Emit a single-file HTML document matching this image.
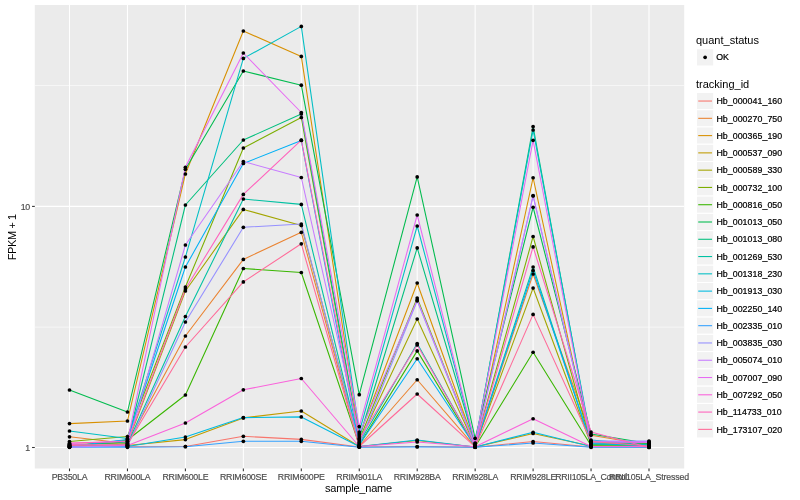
<!DOCTYPE html>
<html><head><meta charset="utf-8"><title>expression plot</title>
<style>html,body{margin:0;padding:0;background:#fff;}svg{display:block}text{font-family:"Liberation Sans",Arial,Helvetica,sans-serif;}</style></head>
<body>
<svg width="800" height="500" viewBox="0 0 800 500">
<rect x="0" y="0" width="800" height="500" fill="#ffffff"/>
<rect x="34.8" y="5.0" width="649.4" height="463.5" fill="#EBEBEB"/>
<g stroke="#FFFFFF" stroke-width="0.6">
<line x1="34.8" x2="684.2" y1="327.15" y2="327.15"/>
<line x1="34.8" x2="684.2" y1="85.55" y2="85.55"/>
</g>
<g stroke="#FFFFFF" stroke-width="1.07">
<line x1="34.8" x2="684.2" y1="447.50" y2="447.50"/>
<line x1="34.8" x2="684.2" y1="206.40" y2="206.40"/>
<line x1="69.50" x2="69.50" y1="5.0" y2="468.5"/>
<line x1="127.45" x2="127.45" y1="5.0" y2="468.5"/>
<line x1="185.40" x2="185.40" y1="5.0" y2="468.5"/>
<line x1="243.35" x2="243.35" y1="5.0" y2="468.5"/>
<line x1="301.30" x2="301.30" y1="5.0" y2="468.5"/>
<line x1="359.25" x2="359.25" y1="5.0" y2="468.5"/>
<line x1="417.20" x2="417.20" y1="5.0" y2="468.5"/>
<line x1="475.15" x2="475.15" y1="5.0" y2="468.5"/>
<line x1="533.10" x2="533.10" y1="5.0" y2="468.5"/>
<line x1="591.05" x2="591.05" y1="5.0" y2="468.5"/>
<line x1="649.00" x2="649.00" y1="5.0" y2="468.5"/>
</g>
<g fill="none" stroke-width="1.07" stroke-linejoin="round" stroke-linecap="butt">
<polyline stroke="#F8766D" points="69.50,446.00 127.45,446.80 185.40,446.50 243.35,436.30 301.30,439.40 359.25,447.00 417.20,446.50 475.15,447.20 533.10,441.50 591.05,447.00 649.00,447.20"/>
<polyline stroke="#EA8331" points="69.50,436.80 127.45,443.50 185.40,336.00 243.35,259.40 301.30,232.30 359.25,446.00 417.20,379.75 475.15,446.80 533.10,274.00 591.05,435.30 649.00,445.00"/>
<polyline stroke="#D89000" points="69.50,423.60 127.45,421.00 185.40,174.00 243.35,31.00 301.30,56.40 359.25,436.00 417.20,283.00 475.15,445.00 533.10,177.75 591.05,444.80 649.00,444.00"/>
<polyline stroke="#C09B00" points="69.50,445.00 127.45,445.50 185.40,439.60 243.35,417.90 301.30,411.00 359.25,446.50 417.20,440.50 475.15,447.00 533.10,433.50 591.05,446.00 649.00,446.50"/>
<polyline stroke="#A3A500" points="69.50,444.50 127.45,443.00 185.40,291.00 243.35,209.40 301.30,225.50 359.25,442.00 417.20,319.00 475.15,446.00 533.10,288.00 591.05,444.50 649.00,444.50"/>
<polyline stroke="#7CAE00" points="69.50,441.50 127.45,436.50 185.40,287.00 243.35,148.00 301.30,117.50 359.25,440.00 417.20,298.00 475.15,445.50 533.10,236.50 591.05,444.00 649.00,443.50"/>
<polyline stroke="#39B600" points="69.50,446.50 127.45,440.00 185.40,395.00 243.35,268.50 301.30,272.50 359.25,445.00 417.20,350.90 475.15,446.80 533.10,352.25 591.05,445.50 649.00,446.00"/>
<polyline stroke="#00BB4E" points="69.50,390.00 127.45,412.00 185.40,169.30 243.35,71.00 301.30,85.20 359.25,394.70 417.20,176.90 475.15,438.30 533.10,207.25 591.05,434.00 649.00,443.50"/>
<polyline stroke="#00BF7D" points="69.50,445.50 127.45,442.00 185.40,205.00 243.35,140.00 301.30,114.00 359.25,438.00 417.20,247.90 475.15,444.00 533.10,126.60 591.05,442.50 649.00,443.00"/>
<polyline stroke="#00C1A3" points="69.50,447.00 127.45,444.00 185.40,316.50 243.35,199.00 301.30,204.40 359.25,443.00 417.20,343.50 475.15,446.30 533.10,267.00 591.05,444.00 649.00,445.50"/>
<polyline stroke="#00BFC4" points="69.50,431.00 127.45,438.50 185.40,257.00 243.35,58.40 301.30,26.40 359.25,432.00 417.20,226.00 475.15,443.50 533.10,130.00 591.05,440.00 649.00,445.00"/>
<polyline stroke="#00BAE0" points="69.50,446.00 127.45,446.50 185.40,437.00 243.35,417.60 301.30,416.90 359.25,446.50 417.20,440.00 475.15,447.00 533.10,432.25 591.05,446.50 649.00,446.80"/>
<polyline stroke="#00B0F6" points="69.50,446.50 127.45,439.50 185.40,267.00 243.35,163.50 301.30,140.40 359.25,445.00 417.20,358.75 475.15,446.50 533.10,270.50 591.05,443.50 649.00,445.50"/>
<polyline stroke="#35A2FF" points="69.50,447.20 127.45,447.30 185.40,446.70 243.35,441.30 301.30,441.30 359.25,447.20 417.20,446.90 475.15,447.30 533.10,443.00 591.05,447.30 649.00,447.30"/>
<polyline stroke="#9590FF" points="69.50,447.00 127.45,446.00 185.40,322.00 243.35,227.30 301.30,224.00 359.25,444.00 417.20,300.80 475.15,445.50 533.10,196.00 591.05,441.00 649.00,441.00"/>
<polyline stroke="#C77CFF" points="69.50,447.30 127.45,445.00 185.40,245.00 243.35,161.50 301.30,177.50 359.25,434.00 417.20,300.00 475.15,445.20 533.10,195.50 591.05,441.30 649.00,441.50"/>
<polyline stroke="#E76BF3" points="69.50,443.50 127.45,441.00 185.40,167.30 243.35,53.00 301.30,112.50 359.25,426.60 417.20,215.00 475.15,443.00 533.10,140.30 591.05,442.00 649.00,442.50"/>
<polyline stroke="#FA62DB" points="69.50,444.50 127.45,445.50 185.40,423.00 243.35,389.80 301.30,378.50 359.25,446.50 417.20,442.00 475.15,446.80 533.10,418.75 591.05,446.50 649.00,446.50"/>
<polyline stroke="#FF62BC" points="69.50,443.00 127.45,441.50 185.40,289.00 243.35,194.40 301.30,140.20 359.25,439.00 417.20,345.00 475.15,446.00 533.10,246.90 591.05,432.00 649.00,447.50"/>
<polyline stroke="#FF6A98" points="69.50,445.50 127.45,444.50 185.40,347.00 243.35,281.90 301.30,243.80 359.25,446.50 417.20,394.00 475.15,446.80 533.10,314.40 591.05,441.50 649.00,446.00"/>
</g>
<g fill="#000000">
<circle cx="69.50" cy="446.00" r="1.85"/><circle cx="127.45" cy="446.80" r="1.85"/><circle cx="185.40" cy="446.50" r="1.85"/><circle cx="243.35" cy="436.30" r="1.85"/><circle cx="301.30" cy="439.40" r="1.85"/><circle cx="359.25" cy="447.00" r="1.85"/><circle cx="417.20" cy="446.50" r="1.85"/><circle cx="475.15" cy="447.20" r="1.85"/><circle cx="533.10" cy="441.50" r="1.85"/><circle cx="591.05" cy="447.00" r="1.85"/><circle cx="649.00" cy="447.20" r="1.85"/>
<circle cx="69.50" cy="436.80" r="1.85"/><circle cx="127.45" cy="443.50" r="1.85"/><circle cx="185.40" cy="336.00" r="1.85"/><circle cx="243.35" cy="259.40" r="1.85"/><circle cx="301.30" cy="232.30" r="1.85"/><circle cx="359.25" cy="446.00" r="1.85"/><circle cx="417.20" cy="379.75" r="1.85"/><circle cx="475.15" cy="446.80" r="1.85"/><circle cx="533.10" cy="274.00" r="1.85"/><circle cx="591.05" cy="435.30" r="1.85"/><circle cx="649.00" cy="445.00" r="1.85"/>
<circle cx="69.50" cy="423.60" r="1.85"/><circle cx="127.45" cy="421.00" r="1.85"/><circle cx="185.40" cy="174.00" r="1.85"/><circle cx="243.35" cy="31.00" r="1.85"/><circle cx="301.30" cy="56.40" r="1.85"/><circle cx="359.25" cy="436.00" r="1.85"/><circle cx="417.20" cy="283.00" r="1.85"/><circle cx="475.15" cy="445.00" r="1.85"/><circle cx="533.10" cy="177.75" r="1.85"/><circle cx="591.05" cy="444.80" r="1.85"/><circle cx="649.00" cy="444.00" r="1.85"/>
<circle cx="69.50" cy="445.00" r="1.85"/><circle cx="127.45" cy="445.50" r="1.85"/><circle cx="185.40" cy="439.60" r="1.85"/><circle cx="243.35" cy="417.90" r="1.85"/><circle cx="301.30" cy="411.00" r="1.85"/><circle cx="359.25" cy="446.50" r="1.85"/><circle cx="417.20" cy="440.50" r="1.85"/><circle cx="475.15" cy="447.00" r="1.85"/><circle cx="533.10" cy="433.50" r="1.85"/><circle cx="591.05" cy="446.00" r="1.85"/><circle cx="649.00" cy="446.50" r="1.85"/>
<circle cx="69.50" cy="444.50" r="1.85"/><circle cx="127.45" cy="443.00" r="1.85"/><circle cx="185.40" cy="291.00" r="1.85"/><circle cx="243.35" cy="209.40" r="1.85"/><circle cx="301.30" cy="225.50" r="1.85"/><circle cx="359.25" cy="442.00" r="1.85"/><circle cx="417.20" cy="319.00" r="1.85"/><circle cx="475.15" cy="446.00" r="1.85"/><circle cx="533.10" cy="288.00" r="1.85"/><circle cx="591.05" cy="444.50" r="1.85"/><circle cx="649.00" cy="444.50" r="1.85"/>
<circle cx="69.50" cy="441.50" r="1.85"/><circle cx="127.45" cy="436.50" r="1.85"/><circle cx="185.40" cy="287.00" r="1.85"/><circle cx="243.35" cy="148.00" r="1.85"/><circle cx="301.30" cy="117.50" r="1.85"/><circle cx="359.25" cy="440.00" r="1.85"/><circle cx="417.20" cy="298.00" r="1.85"/><circle cx="475.15" cy="445.50" r="1.85"/><circle cx="533.10" cy="236.50" r="1.85"/><circle cx="591.05" cy="444.00" r="1.85"/><circle cx="649.00" cy="443.50" r="1.85"/>
<circle cx="69.50" cy="446.50" r="1.85"/><circle cx="127.45" cy="440.00" r="1.85"/><circle cx="185.40" cy="395.00" r="1.85"/><circle cx="243.35" cy="268.50" r="1.85"/><circle cx="301.30" cy="272.50" r="1.85"/><circle cx="359.25" cy="445.00" r="1.85"/><circle cx="417.20" cy="350.90" r="1.85"/><circle cx="475.15" cy="446.80" r="1.85"/><circle cx="533.10" cy="352.25" r="1.85"/><circle cx="591.05" cy="445.50" r="1.85"/><circle cx="649.00" cy="446.00" r="1.85"/>
<circle cx="69.50" cy="390.00" r="1.85"/><circle cx="127.45" cy="412.00" r="1.85"/><circle cx="185.40" cy="169.30" r="1.85"/><circle cx="243.35" cy="71.00" r="1.85"/><circle cx="301.30" cy="85.20" r="1.85"/><circle cx="359.25" cy="394.70" r="1.85"/><circle cx="417.20" cy="176.90" r="1.85"/><circle cx="475.15" cy="438.30" r="1.85"/><circle cx="533.10" cy="207.25" r="1.85"/><circle cx="591.05" cy="434.00" r="1.85"/><circle cx="649.00" cy="443.50" r="1.85"/>
<circle cx="69.50" cy="445.50" r="1.85"/><circle cx="127.45" cy="442.00" r="1.85"/><circle cx="185.40" cy="205.00" r="1.85"/><circle cx="243.35" cy="140.00" r="1.85"/><circle cx="301.30" cy="114.00" r="1.85"/><circle cx="359.25" cy="438.00" r="1.85"/><circle cx="417.20" cy="247.90" r="1.85"/><circle cx="475.15" cy="444.00" r="1.85"/><circle cx="533.10" cy="126.60" r="1.85"/><circle cx="591.05" cy="442.50" r="1.85"/><circle cx="649.00" cy="443.00" r="1.85"/>
<circle cx="69.50" cy="447.00" r="1.85"/><circle cx="127.45" cy="444.00" r="1.85"/><circle cx="185.40" cy="316.50" r="1.85"/><circle cx="243.35" cy="199.00" r="1.85"/><circle cx="301.30" cy="204.40" r="1.85"/><circle cx="359.25" cy="443.00" r="1.85"/><circle cx="417.20" cy="343.50" r="1.85"/><circle cx="475.15" cy="446.30" r="1.85"/><circle cx="533.10" cy="267.00" r="1.85"/><circle cx="591.05" cy="444.00" r="1.85"/><circle cx="649.00" cy="445.50" r="1.85"/>
<circle cx="69.50" cy="431.00" r="1.85"/><circle cx="127.45" cy="438.50" r="1.85"/><circle cx="185.40" cy="257.00" r="1.85"/><circle cx="243.35" cy="58.40" r="1.85"/><circle cx="301.30" cy="26.40" r="1.85"/><circle cx="359.25" cy="432.00" r="1.85"/><circle cx="417.20" cy="226.00" r="1.85"/><circle cx="475.15" cy="443.50" r="1.85"/><circle cx="533.10" cy="130.00" r="1.85"/><circle cx="591.05" cy="440.00" r="1.85"/><circle cx="649.00" cy="445.00" r="1.85"/>
<circle cx="69.50" cy="446.00" r="1.85"/><circle cx="127.45" cy="446.50" r="1.85"/><circle cx="185.40" cy="437.00" r="1.85"/><circle cx="243.35" cy="417.60" r="1.85"/><circle cx="301.30" cy="416.90" r="1.85"/><circle cx="359.25" cy="446.50" r="1.85"/><circle cx="417.20" cy="440.00" r="1.85"/><circle cx="475.15" cy="447.00" r="1.85"/><circle cx="533.10" cy="432.25" r="1.85"/><circle cx="591.05" cy="446.50" r="1.85"/><circle cx="649.00" cy="446.80" r="1.85"/>
<circle cx="69.50" cy="446.50" r="1.85"/><circle cx="127.45" cy="439.50" r="1.85"/><circle cx="185.40" cy="267.00" r="1.85"/><circle cx="243.35" cy="163.50" r="1.85"/><circle cx="301.30" cy="140.40" r="1.85"/><circle cx="359.25" cy="445.00" r="1.85"/><circle cx="417.20" cy="358.75" r="1.85"/><circle cx="475.15" cy="446.50" r="1.85"/><circle cx="533.10" cy="270.50" r="1.85"/><circle cx="591.05" cy="443.50" r="1.85"/><circle cx="649.00" cy="445.50" r="1.85"/>
<circle cx="69.50" cy="447.20" r="1.85"/><circle cx="127.45" cy="447.30" r="1.85"/><circle cx="185.40" cy="446.70" r="1.85"/><circle cx="243.35" cy="441.30" r="1.85"/><circle cx="301.30" cy="441.30" r="1.85"/><circle cx="359.25" cy="447.20" r="1.85"/><circle cx="417.20" cy="446.90" r="1.85"/><circle cx="475.15" cy="447.30" r="1.85"/><circle cx="533.10" cy="443.00" r="1.85"/><circle cx="591.05" cy="447.30" r="1.85"/><circle cx="649.00" cy="447.30" r="1.85"/>
<circle cx="69.50" cy="447.00" r="1.85"/><circle cx="127.45" cy="446.00" r="1.85"/><circle cx="185.40" cy="322.00" r="1.85"/><circle cx="243.35" cy="227.30" r="1.85"/><circle cx="301.30" cy="224.00" r="1.85"/><circle cx="359.25" cy="444.00" r="1.85"/><circle cx="417.20" cy="300.80" r="1.85"/><circle cx="475.15" cy="445.50" r="1.85"/><circle cx="533.10" cy="196.00" r="1.85"/><circle cx="591.05" cy="441.00" r="1.85"/><circle cx="649.00" cy="441.00" r="1.85"/>
<circle cx="69.50" cy="447.30" r="1.85"/><circle cx="127.45" cy="445.00" r="1.85"/><circle cx="185.40" cy="245.00" r="1.85"/><circle cx="243.35" cy="161.50" r="1.85"/><circle cx="301.30" cy="177.50" r="1.85"/><circle cx="359.25" cy="434.00" r="1.85"/><circle cx="417.20" cy="300.00" r="1.85"/><circle cx="475.15" cy="445.20" r="1.85"/><circle cx="533.10" cy="195.50" r="1.85"/><circle cx="591.05" cy="441.30" r="1.85"/><circle cx="649.00" cy="441.50" r="1.85"/>
<circle cx="69.50" cy="443.50" r="1.85"/><circle cx="127.45" cy="441.00" r="1.85"/><circle cx="185.40" cy="167.30" r="1.85"/><circle cx="243.35" cy="53.00" r="1.85"/><circle cx="301.30" cy="112.50" r="1.85"/><circle cx="359.25" cy="426.60" r="1.85"/><circle cx="417.20" cy="215.00" r="1.85"/><circle cx="475.15" cy="443.00" r="1.85"/><circle cx="533.10" cy="140.30" r="1.85"/><circle cx="591.05" cy="442.00" r="1.85"/><circle cx="649.00" cy="442.50" r="1.85"/>
<circle cx="69.50" cy="444.50" r="1.85"/><circle cx="127.45" cy="445.50" r="1.85"/><circle cx="185.40" cy="423.00" r="1.85"/><circle cx="243.35" cy="389.80" r="1.85"/><circle cx="301.30" cy="378.50" r="1.85"/><circle cx="359.25" cy="446.50" r="1.85"/><circle cx="417.20" cy="442.00" r="1.85"/><circle cx="475.15" cy="446.80" r="1.85"/><circle cx="533.10" cy="418.75" r="1.85"/><circle cx="591.05" cy="446.50" r="1.85"/><circle cx="649.00" cy="446.50" r="1.85"/>
<circle cx="69.50" cy="443.00" r="1.85"/><circle cx="127.45" cy="441.50" r="1.85"/><circle cx="185.40" cy="289.00" r="1.85"/><circle cx="243.35" cy="194.40" r="1.85"/><circle cx="301.30" cy="140.20" r="1.85"/><circle cx="359.25" cy="439.00" r="1.85"/><circle cx="417.20" cy="345.00" r="1.85"/><circle cx="475.15" cy="446.00" r="1.85"/><circle cx="533.10" cy="246.90" r="1.85"/><circle cx="591.05" cy="432.00" r="1.85"/><circle cx="649.00" cy="447.50" r="1.85"/>
<circle cx="69.50" cy="445.50" r="1.85"/><circle cx="127.45" cy="444.50" r="1.85"/><circle cx="185.40" cy="347.00" r="1.85"/><circle cx="243.35" cy="281.90" r="1.85"/><circle cx="301.30" cy="243.80" r="1.85"/><circle cx="359.25" cy="446.50" r="1.85"/><circle cx="417.20" cy="394.00" r="1.85"/><circle cx="475.15" cy="446.80" r="1.85"/><circle cx="533.10" cy="314.40" r="1.85"/><circle cx="591.05" cy="441.50" r="1.85"/><circle cx="649.00" cy="446.00" r="1.85"/>
</g>
<g stroke="#333333" stroke-width="1.07">
<line x1="69.50" x2="69.50" y1="468.5" y2="471.25"/>
<line x1="127.45" x2="127.45" y1="468.5" y2="471.25"/>
<line x1="185.40" x2="185.40" y1="468.5" y2="471.25"/>
<line x1="243.35" x2="243.35" y1="468.5" y2="471.25"/>
<line x1="301.30" x2="301.30" y1="468.5" y2="471.25"/>
<line x1="359.25" x2="359.25" y1="468.5" y2="471.25"/>
<line x1="417.20" x2="417.20" y1="468.5" y2="471.25"/>
<line x1="475.15" x2="475.15" y1="468.5" y2="471.25"/>
<line x1="533.10" x2="533.10" y1="468.5" y2="471.25"/>
<line x1="591.05" x2="591.05" y1="468.5" y2="471.25"/>
<line x1="649.00" x2="649.00" y1="468.5" y2="471.25"/>
<line x1="32.05" x2="34.8" y1="447.50" y2="447.50"/>
<line x1="32.05" x2="34.8" y1="206.40" y2="206.40"/>
</g>
<g font-size="8.8" fill="#4D4D4D" stroke="#4D4D4D" stroke-width="0.18" letter-spacing="-0.22">
<text x="69.50" y="480.2" text-anchor="middle">PB350LA</text>
<text x="127.45" y="480.2" text-anchor="middle">RRIM600LA</text>
<text x="185.40" y="480.2" text-anchor="middle">RRIM600LE</text>
<text x="243.35" y="480.2" text-anchor="middle">RRIM600SE</text>
<text x="301.30" y="480.2" text-anchor="middle">RRIM600PE</text>
<text x="359.25" y="480.2" text-anchor="middle">RRIM901LA</text>
<text x="417.20" y="480.2" text-anchor="middle">RRIM928BA</text>
<text x="475.15" y="480.2" text-anchor="middle">RRIM928LA</text>
<text x="533.10" y="480.2" text-anchor="middle">RRIM928LE</text>
<text x="591.05" y="480.2" text-anchor="middle" letter-spacing="-0.27">RRII105LA_Control</text>
<text x="649.00" y="480.2" text-anchor="middle" letter-spacing="-0.14">RRII105LA_Stressed</text>
<text x="30" y="209.6" text-anchor="end">10</text>
<text x="30" y="450.7" text-anchor="end">1</text>
</g>
<g font-size="11" fill="#000000">
<text x="358.5" y="491.6" text-anchor="middle" letter-spacing="-0.2">sample_name</text>
<text transform="translate(16.3,237.2) rotate(-90)" text-anchor="middle" letter-spacing="-0.4">FPKM + 1</text>
<text x="696" y="44">quant_status</text>
<text x="696" y="88">tracking_id</text>
</g>
<rect x="696.5" y="48.7" width="17.28" height="17.28" fill="#F2F2F2" stroke="#FFFFFF" stroke-width="1.07"/>
<circle cx="705.14" cy="57.34" r="1.85" fill="#000"/>
<g font-size="8.8" fill="#000000" stroke="#000000" stroke-width="0.22" letter-spacing="0.06">
<text x="716.2" y="59.6">OK</text>
<rect x="696.5" y="92.40" width="17.28" height="17.28" fill="#F2F2F2" stroke="#FFFFFF" stroke-width="1.07"/>
<line x1="698.23" x2="712.05" y1="101.04" y2="101.04" stroke="#F8766D" stroke-width="1.07"/>
<text x="716.4" y="104.24">Hb_000041_160</text>
<rect x="696.5" y="109.68" width="17.28" height="17.28" fill="#F2F2F2" stroke="#FFFFFF" stroke-width="1.07"/>
<line x1="698.23" x2="712.05" y1="118.32" y2="118.32" stroke="#EA8331" stroke-width="1.07"/>
<text x="716.4" y="121.52">Hb_000270_750</text>
<rect x="696.5" y="126.96" width="17.28" height="17.28" fill="#F2F2F2" stroke="#FFFFFF" stroke-width="1.07"/>
<line x1="698.23" x2="712.05" y1="135.60" y2="135.60" stroke="#D89000" stroke-width="1.07"/>
<text x="716.4" y="138.80">Hb_000365_190</text>
<rect x="696.5" y="144.24" width="17.28" height="17.28" fill="#F2F2F2" stroke="#FFFFFF" stroke-width="1.07"/>
<line x1="698.23" x2="712.05" y1="152.88" y2="152.88" stroke="#C09B00" stroke-width="1.07"/>
<text x="716.4" y="156.08">Hb_000537_090</text>
<rect x="696.5" y="161.52" width="17.28" height="17.28" fill="#F2F2F2" stroke="#FFFFFF" stroke-width="1.07"/>
<line x1="698.23" x2="712.05" y1="170.16" y2="170.16" stroke="#A3A500" stroke-width="1.07"/>
<text x="716.4" y="173.36">Hb_000589_330</text>
<rect x="696.5" y="178.80" width="17.28" height="17.28" fill="#F2F2F2" stroke="#FFFFFF" stroke-width="1.07"/>
<line x1="698.23" x2="712.05" y1="187.44" y2="187.44" stroke="#7CAE00" stroke-width="1.07"/>
<text x="716.4" y="190.64">Hb_000732_100</text>
<rect x="696.5" y="196.08" width="17.28" height="17.28" fill="#F2F2F2" stroke="#FFFFFF" stroke-width="1.07"/>
<line x1="698.23" x2="712.05" y1="204.72" y2="204.72" stroke="#39B600" stroke-width="1.07"/>
<text x="716.4" y="207.92">Hb_000816_050</text>
<rect x="696.5" y="213.36" width="17.28" height="17.28" fill="#F2F2F2" stroke="#FFFFFF" stroke-width="1.07"/>
<line x1="698.23" x2="712.05" y1="222.00" y2="222.00" stroke="#00BB4E" stroke-width="1.07"/>
<text x="716.4" y="225.20">Hb_001013_050</text>
<rect x="696.5" y="230.64" width="17.28" height="17.28" fill="#F2F2F2" stroke="#FFFFFF" stroke-width="1.07"/>
<line x1="698.23" x2="712.05" y1="239.28" y2="239.28" stroke="#00BF7D" stroke-width="1.07"/>
<text x="716.4" y="242.48">Hb_001013_080</text>
<rect x="696.5" y="247.92" width="17.28" height="17.28" fill="#F2F2F2" stroke="#FFFFFF" stroke-width="1.07"/>
<line x1="698.23" x2="712.05" y1="256.56" y2="256.56" stroke="#00C1A3" stroke-width="1.07"/>
<text x="716.4" y="259.76">Hb_001269_530</text>
<rect x="696.5" y="265.20" width="17.28" height="17.28" fill="#F2F2F2" stroke="#FFFFFF" stroke-width="1.07"/>
<line x1="698.23" x2="712.05" y1="273.84" y2="273.84" stroke="#00BFC4" stroke-width="1.07"/>
<text x="716.4" y="277.04">Hb_001318_230</text>
<rect x="696.5" y="282.48" width="17.28" height="17.28" fill="#F2F2F2" stroke="#FFFFFF" stroke-width="1.07"/>
<line x1="698.23" x2="712.05" y1="291.12" y2="291.12" stroke="#00BAE0" stroke-width="1.07"/>
<text x="716.4" y="294.32">Hb_001913_030</text>
<rect x="696.5" y="299.76" width="17.28" height="17.28" fill="#F2F2F2" stroke="#FFFFFF" stroke-width="1.07"/>
<line x1="698.23" x2="712.05" y1="308.40" y2="308.40" stroke="#00B0F6" stroke-width="1.07"/>
<text x="716.4" y="311.60">Hb_002250_140</text>
<rect x="696.5" y="317.04" width="17.28" height="17.28" fill="#F2F2F2" stroke="#FFFFFF" stroke-width="1.07"/>
<line x1="698.23" x2="712.05" y1="325.68" y2="325.68" stroke="#35A2FF" stroke-width="1.07"/>
<text x="716.4" y="328.88">Hb_002335_010</text>
<rect x="696.5" y="334.32" width="17.28" height="17.28" fill="#F2F2F2" stroke="#FFFFFF" stroke-width="1.07"/>
<line x1="698.23" x2="712.05" y1="342.96" y2="342.96" stroke="#9590FF" stroke-width="1.07"/>
<text x="716.4" y="346.16">Hb_003835_030</text>
<rect x="696.5" y="351.60" width="17.28" height="17.28" fill="#F2F2F2" stroke="#FFFFFF" stroke-width="1.07"/>
<line x1="698.23" x2="712.05" y1="360.24" y2="360.24" stroke="#C77CFF" stroke-width="1.07"/>
<text x="716.4" y="363.44">Hb_005074_010</text>
<rect x="696.5" y="368.88" width="17.28" height="17.28" fill="#F2F2F2" stroke="#FFFFFF" stroke-width="1.07"/>
<line x1="698.23" x2="712.05" y1="377.52" y2="377.52" stroke="#E76BF3" stroke-width="1.07"/>
<text x="716.4" y="380.72">Hb_007007_090</text>
<rect x="696.5" y="386.16" width="17.28" height="17.28" fill="#F2F2F2" stroke="#FFFFFF" stroke-width="1.07"/>
<line x1="698.23" x2="712.05" y1="394.80" y2="394.80" stroke="#FA62DB" stroke-width="1.07"/>
<text x="716.4" y="398.00">Hb_007292_050</text>
<rect x="696.5" y="403.44" width="17.28" height="17.28" fill="#F2F2F2" stroke="#FFFFFF" stroke-width="1.07"/>
<line x1="698.23" x2="712.05" y1="412.08" y2="412.08" stroke="#FF62BC" stroke-width="1.07"/>
<text x="716.4" y="415.28">Hb_114733_010</text>
<rect x="696.5" y="420.72" width="17.28" height="17.28" fill="#F2F2F2" stroke="#FFFFFF" stroke-width="1.07"/>
<line x1="698.23" x2="712.05" y1="429.36" y2="429.36" stroke="#FF6A98" stroke-width="1.07"/>
<text x="716.4" y="432.56">Hb_173107_020</text>
</g>
</svg>
</body></html>
